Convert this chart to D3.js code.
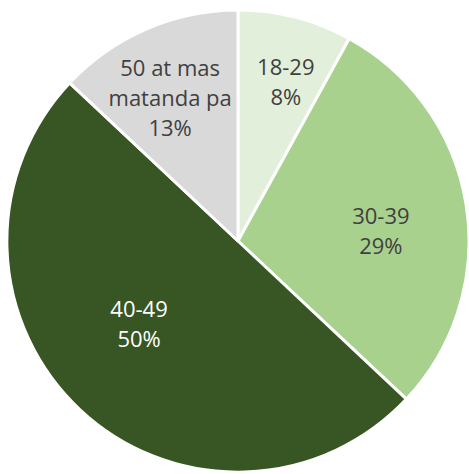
<!DOCTYPE html>
<html>
<head>
<meta charset="utf-8">
<script src="https://cdn.jsdelivr.net/npm/d3@7"></script>
<style>
  html, body { margin: 0; padding: 0; background: #ffffff; }
  svg { display: block; }
</style>
</head>
<body>
<svg id="chart" width="469" height="474"></svg>
<script>
// Data
const categories = ["18-29", "30-39", "40-49", "50 at mas matanda pa"];
const labelLines = [["18-29"], ["30-39"], ["40-49"], ["50 at mas", "matanda pa"]];
const values = [8, 29, 50, 13];
const percentLabels = ["8%", "29%", "50%", "13%"];

// Styles / label layout tweaks
const colors = ["#E2EFDA", "#A9D18E", "#375623", "#D9D9D9"];
const textColors = ["#404040", "#404040", "#FFFFFF", "#404040"];
const labelRadiusFactor = [0.72, 0.62, 0.56, 0.685];
const labelAngleShiftDeg = [2.3, 5, 6.7, -2];

const svg = d3.select("#chart");
const cx = 238, cy = 241, r = 231;
const g = svg.append("g").attr("transform", `translate(${cx},${cy})`);

const pie = d3.pie().sort(null).value(d => d)(values);
const arc = d3.arc().innerRadius(0).outerRadius(r);

g.selectAll("path.slice")
  .data(pie)
  .join("path")
  .attr("class", "slice")
  .attr("d", arc)
  .attr("fill", (d, i) => colors[i])
  .attr("stroke", "#ffffff")
  .attr("stroke-width", 3)
  .attr("stroke-linejoin", "round");

const fontSize = 22, lineH = 30;
pie.forEach((d, i) => {
  const mid = (d.startAngle + d.endAngle) / 2 + labelAngleShiftDeg[i] * Math.PI / 180;
  const lr = r * labelRadiusFactor[i];
  const x = Math.sin(mid) * lr;
  const y = -Math.cos(mid) * lr;
  const lines = labelLines[i].concat([percentLabels[i]]);
  const n = lines.length;
  const t = g.append("text")
    .attr("text-anchor", "middle")
    .attr("font-family", "'Open Sans', 'Liberation Sans', sans-serif")
    .attr("font-size", fontSize)
    .attr("fill", textColors[i]);
  lines.forEach((line, j) => {
    t.append("tspan")
      .attr("x", x)
      .attr("y", y + (j - (n - 1) / 2) * lineH + fontSize * 0.36)
      .text(line);
  });
});
</script>
</body>
</html>
